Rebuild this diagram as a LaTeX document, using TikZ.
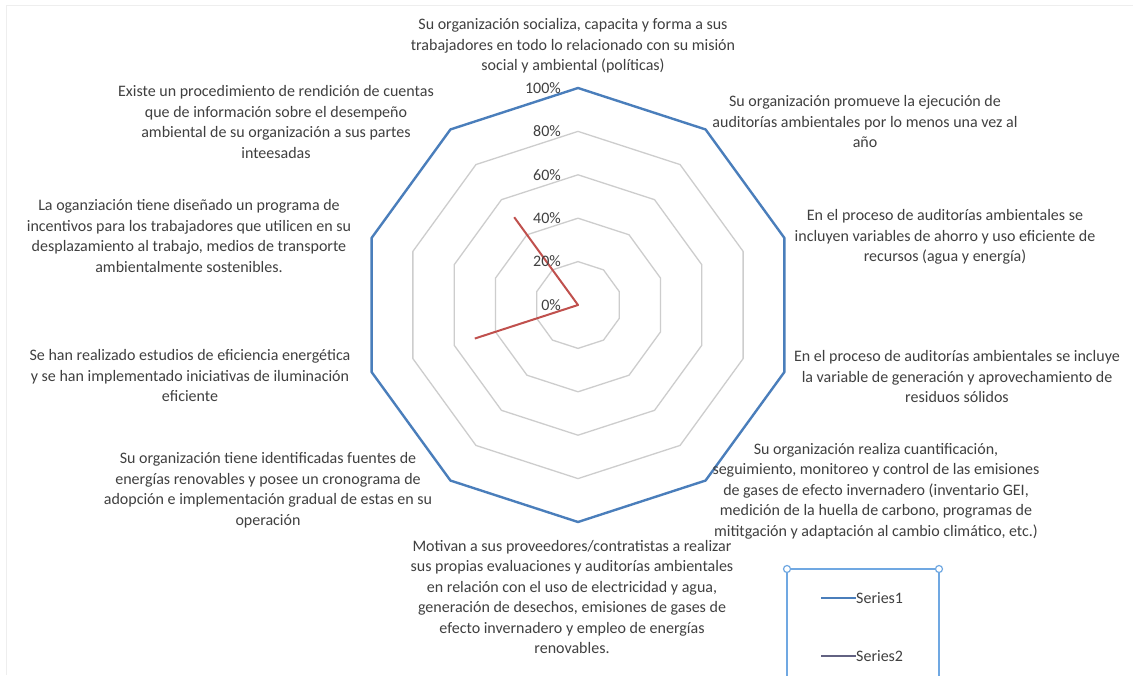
\documentclass[tikz,border=0pt]{standalone}
\usepackage{fontspec}
\setmainfont{Carlito}
\definecolor{txt}{RGB}{64,64,64}
\definecolor{gridgray}{RGB}{205,205,205}
\definecolor{s1blue}{RGB}{74,126,187}
\definecolor{s2red}{RGB}{192,80,77}
\definecolor{legblue}{RGB}{112,168,226}
\definecolor{s2leg}{RGB}{98,98,130}
\definecolor{framegray}{RGB}{238,238,238}
\begin{document}
\begin{tikzpicture}[x=1pt,y=1pt,
  lab/.style={font=\fontsize{16}{20.5}\selectfont, text=txt, align=center, inner sep=0pt},
  pct/.style={font=\fontsize{16}{19}\selectfont, text=txt, anchor=east, inner sep=0pt},
  leg/.style={font=\fontsize{16}{19}\selectfont, text=txt, anchor=west, inner sep=0pt},
  gridline/.style={draw=gridgray, line width=1.3pt, line join=round},
  serA/.style={draw=s1blue, line width=2.4pt, line join=round},
  serB/.style={draw=s2red, line width=2pt, line join=round},
  legframe/.style={draw=legblue, line width=1.6pt},
  handle/.style={draw=legblue, fill=white, line width=1.2pt},
  frameline/.style={draw=framegray, line width=1pt}]
\useasboundingbox (0,0) rectangle (1133,675);
\fill[white] (0,0) rectangle (1133,675);
\draw[frameline] (6,0) -- (6,669) -- (1133,669);
\coordinate (O) at (578,370);
\begin{scope}[shift={(O)}]
  \foreach \k in {0.2,0.4,0.6,0.8}{
    \pgfmathsetmacro\rr{217*\k}
    \draw[gridline] (90:\rr) -- (54:\rr) -- (18:\rr) -- (-18:\rr) -- (-54:\rr) -- (-90:\rr)
      -- (-126:\rr) -- (-162:\rr) -- (162:\rr) -- (126:\rr) -- cycle;
  }
  \draw[serA] (90:217) -- (54:217) -- (18:217) -- (-18:217) -- (-54:217) -- (-90:217)
      -- (-126:217) -- (-162:217) -- (162:217) -- (126:217) -- cycle;
  \coordinate (p126) at (126:108.5);
  \coordinate (p198) at (198:108.5);
  \coordinate (c0) at (0,0);
  \draw[serB] (p126) -- (c0) -- (p198);
\end{scope}
% percentage labels
\node[pct] (a100) at (561,587) {100\%};
\node[pct] (a80) at (561,543.6) {80\%};
\node[pct] (a60) at (561,500.2) {60\%};
\node[pct] (a40) at (561,456.8) {40\%};
\node[pct] (a20) at (561,413.4) {20\%};
\node[pct] (a0) at (561,370) {0\%};
% category labels
\node[lab] (l1) at (573,629) {Su organización socializa, capacita y forma a sus\\trabajadores en todo lo relacionado con su misión\\social y ambiental (políticas)};
\node[lab] (l2) at (865,553) {Su organización promueve la ejecución de\\auditorías ambientales por lo menos una vez al\\año};
\node[lab] (l3) at (945,438) {En el proceso de auditorías ambientales se\\incluyen variables de ahorro y uso eficiente de\\recursos (agua y energía)};
\node[lab] (l4) at (957,298) {En el proceso de auditorías ambientales se incluye\\la variable de generación y aprovechamiento de\\residuos sólidos};
\node[lab] (l5) at (876,184) {Su organización realiza cuantificación,\\seguimiento, monitoreo y control de las emisiones\\de gases de efecto invernadero (inventario GEI,\\medición de la huella de carbono, programas de\\mititgación y adaptación al cambio climático, etc.)};
\node[lab] (l6) at (572,78) {Motivan a sus proveedores/contratistas a realizar\\sus propias evaluaciones y auditorías ambientales\\en relación con el uso de electricidad y agua,\\generación de desechos, emisiones de gases de\\efecto invernadero y empleo de energías\\renovables.};
\node[lab] (l7) at (268,185) {Su organización tiene identificadas fuentes de\\energías renovables y posee un cronograma de\\adopción e implementación gradual de estas en su\\operación};
\node[lab] (l8) at (190,299) {Se han realizado estudios de eficiencia energética\\y se han implementado iniciativas de iluminación\\eficiente};
\node[lab] (l9) at (189,439) {La oganziación tiene diseñado un programa de\\incentivos para los trabajadores que utilicen en su\\desplazamiento al trabajo, medios de transporte\\ambientalmente sostenibles.};
\node[lab] (l10) at (276,553) {Existe un procedimiento de rendición de cuentas\\que de información sobre el desempeño\\ambiental de su organización a sus partes\\inteesadas};
% legend
\coordinate (lb1) at (787,-3);
\coordinate (lb2) at (787,106);
\coordinate (lb3) at (939,106);
\coordinate (lb4) at (939,-3);
\draw[legframe] (lb1) -- (lb2) -- (lb3) -- (lb4);
\node[handle, circle, inner sep=0pt, minimum size=7pt] (h1) at (lb2) {};
\node[handle, circle, inner sep=0pt, minimum size=7pt] (h2) at (lb3) {};
\coordinate (k1a) at (821,77);
\coordinate (k1b) at (856,77);
\draw[serA, line width=2.2pt] (k1a) -- (k1b);
\node[leg] (t1) at (k1b) {Series1};
\coordinate (k2a) at (821,19);
\coordinate (k2b) at (856,19);
\draw[draw=s2leg, line width=2.2pt] (k2a) -- (k2b);
\node[leg] (t2) at (k2b) {Series2};
\end{tikzpicture}
\end{document}
